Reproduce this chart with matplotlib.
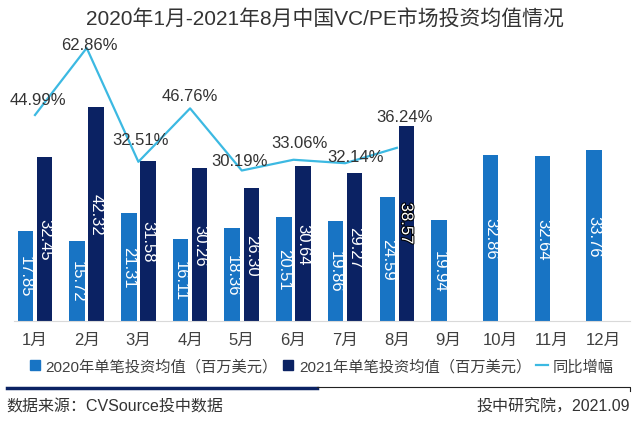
import matplotlib
matplotlib.use('Agg')
import matplotlib.pyplot as plt
import matplotlib.patheffects as pe
from matplotlib.lines import Line2D
import numpy as np

plt.rcParams['font.family'] = ['Liberation Sans', 'Noto Sans CJK SC']

########## data ##########
months = ['1月', '2月', '3月', '4月', '5月', '6月', '7月', '8月', '9月', '10月', '11月', '12月']
avg_2020 = [17.85, 15.72, 21.31, 16.11, 18.36, 20.51, 19.86, 24.59, 19.94, 32.86, 32.64, 33.76]
avg_2021 = [32.45, 42.32, 31.58, 30.26, 26.30, 30.64, 29.27, 38.57]
yoy_pct = [44.99, 62.86, 32.51, 46.76, 30.19, 33.06, 32.14, 36.24]

# label offsets for the % labels (pixels)
pct_offsets = [(3, 16), (3, 4), (2, 22), (0, 13), (-2, 10), (6, 17), (10, 7), (8, 31)]

c2020 = '#1874C4'
c2021 = '#0B2263'
cline = '#3CB9E2'
ctext = '#333333'

fig = plt.figure(figsize=(6.4, 4.35), dpi=100)
ax = fig.add_axes([14 / 640, 113 / 435, 616 / 640, 282 / 435])
ax2 = ax.twinx()

x = np.arange(len(months))
x21 = np.arange(len(avg_2021))
w = 0.3
off = 0.185

b1 = ax.bar(x - off, avg_2020, w, color=c2020, zorder=2)
b2 = ax.bar(x21 + off, avg_2021, w, color=c2021, zorder=2)

for xi, v in zip(x, avg_2020):
    ax.text(xi - off, v / 2, f'{v:.2f}', rotation=-90, ha='center', va='center',
            color='white', fontsize=12)
for xi, v in zip(x21, avg_2021):
    t = ax.text(xi + off, v / 2, f'{v:.2f}', rotation=-90, ha='center', va='center',
                color='white', fontsize=12)
    if xi == 7:
        t.set_path_effects([pe.withStroke(linewidth=1.5, foreground='black')])

ax.set_xlim(-0.406, 11.51)
ax.set_ylim(0, 55.73)
ax.set_yticks([])
ax.set_xticks(x)
ax.set_xticklabels(months, fontsize=12, color='#404040')
ax.tick_params(axis='x', length=0, pad=8)
for s in ['top', 'left', 'right']:
    ax.spines[s].set_visible(False)
ax.spines['bottom'].set_color('#d9d9d9')

ax2.plot(x21, yoy_pct, color=cline, lw=1.6, zorder=3)
for xi, v, (dx, dy) in zip(x21, yoy_pct, pct_offsets):
    ax2.annotate(f'{v:.2f}%', (xi, v), xytext=(dx, dy), textcoords='offset pixels',
                 ha='center', va='center', fontsize=12, color=ctext)
ax2.set_ylim(-9.94, 65.26)
ax2.set_yticks([])
for s in ['top', 'left', 'right', 'bottom']:
    ax2.spines[s].set_visible(False)

fig.text(0.508, 1 - 20 / 435, '2020年1月-2021年8月中国VC/PE市场投资均值情况',
         ha='center', va='center', fontsize=15, color=ctext)

handles = [Line2D([], [], marker='s', ls='none', color=c2020, markersize=7),
           Line2D([], [], marker='s', ls='none', color=c2021, markersize=7),
           Line2D([], [], color=cline, lw=1.6)]
labels = ['2020年单笔投资均值（百万美元）', '2021年单笔投资均值（百万美元）', '同比增幅']
fig.legend(handles, labels, loc='center', bbox_to_anchor=(321 / 640, 1 - 367 / 435),
           ncol=3, frameon=False, fontsize=11, handlelength=0.8, handletextpad=0.3,
           columnspacing=0.3, labelcolor='#404040')

# footer rules
fig.add_artist(Line2D([7 / 640, 317 / 640], [1 - 389 / 435] * 2, color=c2021, lw=2.5))
fig.add_artist(Line2D([317 / 640, 630 / 640, 630 / 640],
                      [1 - 388 / 435, 1 - 388 / 435, 1 - 392 / 435], color='#222222', lw=0.8))

fig.text(6 / 640, 1 - 407 / 435, '数据来源：CVSource投中数据', ha='left', va='center',
         fontsize=11.5, color=ctext)
fig.text(630 / 640, 1 - 407 / 435, '投中研究院，2021.09', ha='right', va='center',
         fontsize=11.5, color=ctext)

fig.savefig('out.png', dpi=100)
